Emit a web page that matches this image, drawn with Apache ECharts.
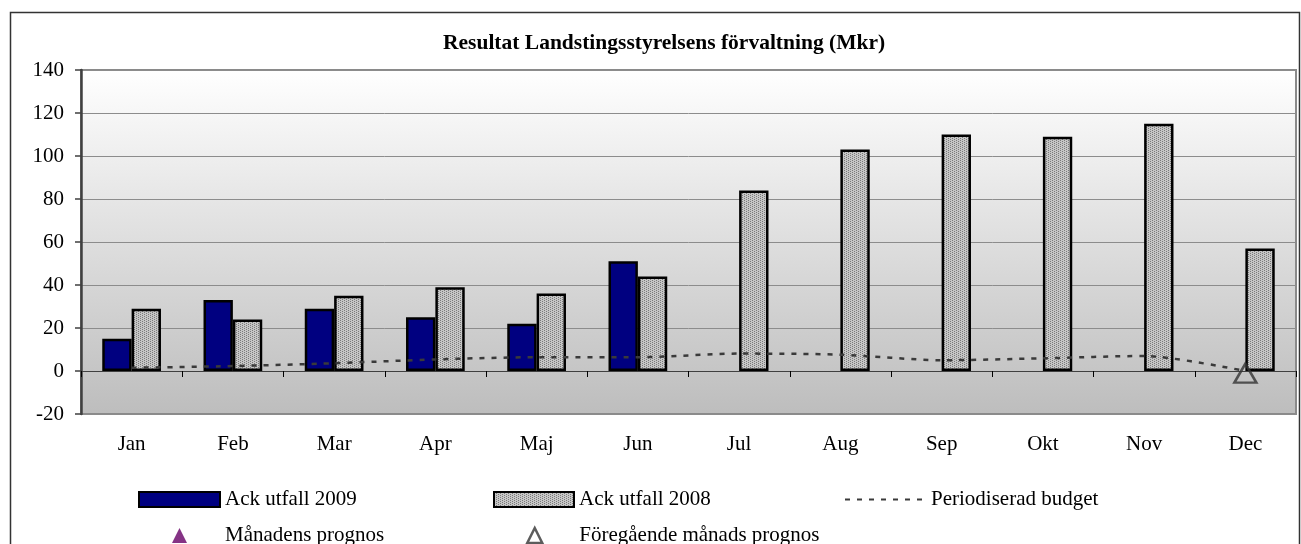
<!DOCTYPE html>
<html>
<head>
<meta charset="utf-8">
<script src="https://cdn.jsdelivr.net/npm/echarts@6/dist/echarts.min.js"></script>
<style>
html,body{margin:0;padding:0;background:#fff;}
#chart{width:1301px;height:544px;}
</style>
</head>
<body>
<div id="chart"></div>
<script>
var categories = ['Jan','Feb','Mar','Apr','Maj','Jun','Jul','Aug','Sep','Okt','Nov','Dec'];
var ackUtfall2009 = [15, 33, 29, 25, 22, 51, null, null, null, null, null, null];
var ackUtfall2008 = [29, 24, 35, 39, 36, 44, 84, 103, 110, 109, 115, 57];
var periodiseradBudget = [1.5, 2.3, 3.6, 5.4, 6.4, 6.4, 8.1, 7.6, 5.0, 5.9, 7.0, 0];
var manadensPrognos = [null, null, null, null, null, null, null, null, null, null, null, null];
var foregaendePrognos = [null, null, null, null, null, null, null, null, null, null, null, -1];
var yTicks = {min: -20, max: 140, interval: 20};

var pat = document.createElement('canvas');
pat.width = 4; pat.height = 4;
var pc = pat.getContext('2d');
pc.fillStyle = '#c6c6c6'; pc.fillRect(0,0,4,4);
pc.fillStyle = '#7a7a7a';
pc.fillRect(0,0,1,1); pc.fillRect(2,1,1,1); pc.fillRect(0,2,1,1); pc.fillRect(2,3,1,1);

var serif = '"Liberation Serif", "Times New Roman", serif';
var chart = echarts.init(document.getElementById('chart'));
var legendText = {fontFamily: serif, fontSize: 21, color: '#000'};
var legendBase = {padding: 0, itemGap: 0, textStyle: legendText, selectedMode: false};
chart.setOption({
  animation: false,
  title: {
    text: 'Resultat Landstingsstyrelsens förvaltning (Mkr)',
    left: 438, top: 27,
    textStyle: {fontFamily: serif, fontWeight: 'bold', fontSize: 21.5, color: '#000'}
  },
  graphic: [{
    type: 'rect', shape: {x: 10.5, y: 12.5, width: 1289, height: 545},
    style: {fill: 'none', stroke: '#333', lineWidth: 1.5}, z: -1
  }],
  grid: {
    left: 81, top: 70, right: 5, bottom: 130, show: true,
    borderColor: '#8a8a8a', borderWidth: 2,
    backgroundColor: {type: 'linear', x: 0, y: 0, x2: 0, y2: 1,
      colorStops: [{offset: 0, color: '#ffffff'}, {offset: 1, color: '#bdbdbd'}]}
  },
  legend: [
    Object.assign({}, legendBase, {data: ['Ack utfall 2009'], icon: 'rect', left: 138, top: 489, itemWidth: 81, itemHeight: 15}),
    Object.assign({}, legendBase, {data: ['Ack utfall 2008'], icon: 'rect', left: 493, top: 489, itemWidth: 80, itemHeight: 15}),
    Object.assign({}, legendBase, {data: ['Periodiserad budget'], left: 844, top: 489, itemWidth: 81, itemHeight: 15,
      itemStyle: {opacity: 0}}),
    Object.assign({}, legendBase, {data: ['Månadens prognos'], left: 172, top: 525, itemWidth: 15, itemHeight: 15,
      textStyle: Object.assign({}, legendText, {padding: [0,0,0,33]})}),
    Object.assign({}, legendBase, {data: [{name: 'Föregående månads prognos', itemStyle: {borderWidth: 2.5, borderColor: '#333'}}],
      left: 526, top: 525, itemWidth: 15, itemHeight: 15,
      textStyle: Object.assign({}, legendText, {padding: [0,0,0,32]})})
  ],
  xAxis: [{
    type: 'category', data: categories, position: 'bottom',
    axisLine: {onZero: true, lineStyle: {color: '#404040', width: 1}},
    axisTick: {show: true, length: 6, lineStyle: {color: '#000', width: 1}},
    axisLabel: {show: false}, splitLine: {show: false}
  }, {
    type: 'category', data: categories, position: 'bottom',
    axisLine: {show: false}, axisTick: {show: false},
    axisLabel: {margin: 20, fontFamily: serif, fontSize: 21, color: '#000'}
  }],
  yAxis: {
    type: 'value', min: yTicks.min, max: yTicks.max, interval: yTicks.interval,
    axisLine: {show: true, onZero: false, lineStyle: {color: '#404040', width: 2.5}},
    axisTick: {show: true, length: 6, lineStyle: {color: '#404040', width: 1.5}},
    axisLabel: {margin: 17, fontFamily: serif, fontSize: 21, color: '#000'},
    splitLine: {show: true, lineStyle: {color: '#8c8c8c', width: 1}}
  },
  series: [{
    name: 'Ack utfall 2009', type: 'bar', data: ackUtfall2009,
    barGap: '0%', barCategoryGap: '42%',
    itemStyle: {color: '#000080', borderColor: '#000', borderWidth: 2.5}
  }, {
    name: 'Ack utfall 2008', type: 'bar', data: ackUtfall2008,
    itemStyle: {color: {image: pat, repeat: 'repeat'}, borderColor: '#000', borderWidth: 2.5}
  }, {
    name: 'Periodiserad budget', type: 'line', data: periodiseradBudget,
    symbol: 'none', smooth: 0.25, z: 5,
    lineStyle: {color: '#3a3a3a', width: 2.5, type: [5, 7]},
    itemStyle: {color: '#3a3a3a'}
  }, {
    name: 'Månadens prognos', type: 'scatter', data: manadensPrognos,
    symbol: 'triangle', symbolSize: 15, itemStyle: {color: '#660066'}
  }, {
    name: 'Föregående månads prognos', type: 'scatter', data: foregaendePrognos,
    symbol: 'triangle', symbolSize: [22, 19], z: 6,
    itemStyle: {color: 'rgba(0,0,0,0)', borderColor: '#333', borderWidth: 2.5}
  }]
});
</script>
</body>
</html>
